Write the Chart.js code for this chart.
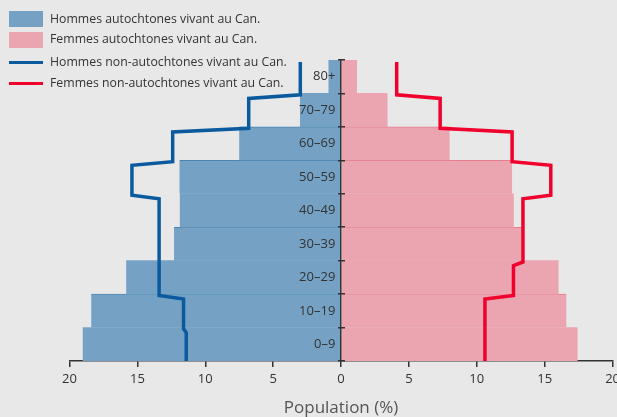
<!DOCTYPE html>
<html>
<head>
<meta charset="utf-8">
<script src="https://cdn.jsdelivr.net/npm/chart.js@4.4.1/dist/chart.umd.min.js"></script>
<style>
  body { margin: 0; width: 617px; height: 417px; overflow: hidden; position: relative; background: #e8e8e8; font-family: "Open Sans", sans-serif; color: #333; }
  #wrap { position: absolute; left: 0; top: 0; width: 624px; height: 422px; }
  .key { position: absolute; left: 9px; width: 34px; }
  .label { position: absolute; left: 50px; font-size: 12.3px; line-height: 16px; white-space: nowrap; }
</style>
</head>
<body>
<div id="wrap"><canvas id="pyramid"></canvas></div>

<div class="key" style="top:11px;height:16px;background:#75a2c4"></div>
<div class="label" style="top:11px">Hommes autochtones vivant au Can.</div>
<div class="key" style="top:32px;height:16px;background:#eba5b0"></div>
<div class="label" style="top:31px">Femmes autochtones vivant au Can.</div>
<div class="key" style="top:61px;height:3px;background:#0b5a9e"></div>
<div class="label" style="top:54px">Hommes non-autochtones vivant au Can.</div>
<div class="key" style="top:82px;height:3px;background:#f0002d"></div>
<div class="label" style="top:75px">Femmes non-autochtones vivant au Can.</div>

<script>
const ageGroups = ["0–9", "10–19", "20–29", "30–39", "40–49", "50–59", "60–69", "70–79", "80+"];
const menNative = [19.0, 18.4, 15.8, 12.3, 11.85, 11.9, 7.5, 3.0, 0.9];
const womenNative = [17.4, 16.6, 16.0, 13.3, 12.7, 12.6, 8.0, 3.4, 1.15];
const menNonNative = [11.4, 11.6, 13.4, 13.4, 13.4, 15.4, 12.4, 6.8, 3.0];
const womenNonNative = [10.6, 10.6, 12.7, 13.4, 13.4, 15.45, 12.6, 7.3, 4.1];

// bars that show a thin rule along their top edge
const ruledBars = [1, 3, 5, 6];

// stepped outline: vertical inside each age band, short slant across the boundary
function stepLine(values, sign) {
  const pts = [];
  const last = values.length - 1;
  for (let i = last; i >= 0; i--) {
    const x = sign * values[i];
    pts.push({ x: x, y: i === last ? i + 1 - 0.06 : i + 1 - 0.15 });
    pts.push({ x: x, y: i === 0 ? 0 : i - 0.04 });
  }
  return pts;
}

function topRule(ctx) {
  return ruledBars.includes(ctx.dataIndex) ? { top: 1, left: 0, right: 0, bottom: 0 } : 0;
}

// the age axis is split in three: labels, crossing tick marks, centre line
function ageAxis(x, extra) {
  return Object.assign({
    type: "category",
    labels: ageGroups,
    reverse: true,
    offset: true,
    position: { x: x },
    ticks: { display: false, z: 2 },
    grid: { display: false, z: 2 },
    border: { display: false, z: 2 }
  }, extra);
}

const ctx = document.getElementById("pyramid").getContext("2d");

new Chart(ctx, {
  type: "bar",
  data: {
    labels: ageGroups,
    datasets: [
      {
        label: "Hommes autochtones vivant au Can.",
        data: menNative.map(v => -v),
        backgroundColor: "#75a2c4",
        borderColor: "#4b84b4",
        borderWidth: topRule,
        borderSkipped: false,
        grouped: false,
        barPercentage: 1,
        categoryPercentage: 1,
        yAxisID: "y",
        order: 2
      },
      {
        label: "Femmes autochtones vivant au Can.",
        data: womenNative,
        backgroundColor: "#eba5b0",
        borderColor: "#e77c8c",
        borderWidth: topRule,
        borderSkipped: false,
        grouped: false,
        barPercentage: 1,
        categoryPercentage: 1,
        yAxisID: "y",
        order: 2
      },
      {
        type: "line",
        label: "Hommes non-autochtones vivant au Can.",
        data: stepLine(menNonNative, -1),
        borderColor: "#0b5a9e",
        borderWidth: 3.5,
        borderJoinStyle: "miter",
        pointRadius: 0,
        fill: false,
        tension: 0,
        yAxisID: "yLine",
        order: 1
      },
      {
        type: "line",
        label: "Femmes non-autochtones vivant au Can.",
        data: stepLine(womenNonNative, 1),
        borderColor: "#f0002d",
        borderWidth: 3.5,
        borderJoinStyle: "miter",
        pointRadius: 0,
        fill: false,
        tension: 0,
        yAxisID: "yLine",
        order: 1
      }
    ]
  },
  options: {
    indexAxis: "y",
    responsive: true,
    maintainAspectRatio: false,
    animation: false,
    layout: { padding: { top: 60, left: 69.5, right: 0, bottom: 4 } },
    plugins: {
      legend: { display: false },
      tooltip: { enabled: false }
    },
    scales: {
      x: {
        type: "linear",
        min: -20,
        max: 20,
        ticks: {
          stepSize: 5,
          color: "#333",
          font: { family: "Open Sans", size: 13 },
          padding: 4,
          callback: v => Math.abs(v)
        },
        grid: { drawOnChartArea: false, tickLength: 6, color: "#333", lineWidth: 1.5 },
        border: { color: "#333", width: 1.5 },
        title: {
          display: true,
          text: "Population (%)",
          color: "#555",
          font: { family: "Open Sans", size: 17 },
          padding: { top: 7, bottom: 0 }
        }
      },
      y: ageAxis(-0.42, {
        ticks: { display: true, color: "#333", font: { family: "Open Sans", size: 13 }, z: 2 }
      }),
      yTicks: ageAxis(0.26, {
        grid: { offset: true, drawOnChartArea: false, tickLength: 7, color: "#333", lineWidth: 1.5, z: 2 }
      }),
      yCentre: ageAxis(0, {
        border: { display: true, color: "#333", width: 1.5, z: 2 }
      }),
      yLine: {
        type: "linear",
        min: 0,
        max: 9,
        offset: false,
        display: false
      }
    }
  }
});
</script>
</body>
</html>
